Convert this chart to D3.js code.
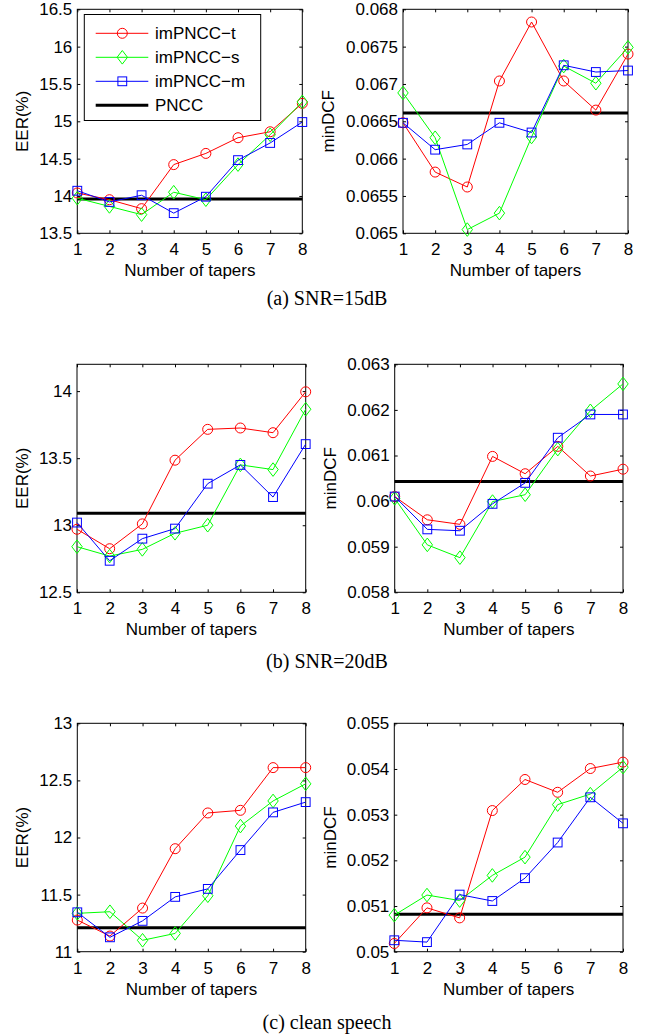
<!DOCTYPE html>
<html>
<head>
<meta charset="utf-8">
<script src="https://cdn.jsdelivr.net/npm/d3@7"></script>
<style>
  body { margin: 0; background: #fff; }
  svg { display: block; }
  text { font-family: "Liberation Sans", Arial, sans-serif; fill: #000; }
  .caption { font-family: "Liberation Serif", "Times New Roman", serif; }
</style>
</head>
<body>
<script>
// number of tapers on the x axis
var tapers = [1, 2, 3, 4, 5, 6, 7, 8];

var seriesNames = ["imPNCC\u2212t", "imPNCC\u2212s", "imPNCC\u2212m", "PNCC"];

// (a) SNR=15dB
var eer15T = [14.04, 13.95, 13.83, 14.42, 14.57, 14.78, 14.86, 15.24];
var eer15S = [13.97, 13.86, 13.75, 14.05, 13.95, 14.42, 14.82, 15.26];
var eer15M = [14.07, 13.92, 14.01, 13.77, 13.99, 14.48, 14.71, 14.99];
var eer15Pncc = 13.96;
var eer15Ticks = [13.5, 14, 14.5, 15, 15.5, 16, 16.5];

var dcf15T = [0.06648, 0.06582, 0.06562, 0.06704, 0.06783, 0.06704, 0.06665, 0.06740];
var dcf15S = [0.06688, 0.06628, 0.06505, 0.06527, 0.06629, 0.06724, 0.06701, 0.06749];
var dcf15M = [0.06648, 0.06612, 0.06619, 0.06648, 0.06635, 0.06725, 0.06716, 0.06718];
var dcf15Pncc = 0.06661;
var dcf15Ticks = [0.065, 0.0655, 0.066, 0.0665, 0.067, 0.0675, 0.068];

// (b) SNR=20dB
var eer20T = [12.97, 12.825, 13.01, 13.485, 13.715, 13.725, 13.69, 13.995];
var eer20S = [12.84, 12.77, 12.82, 12.94, 13.0, 13.45, 13.415, 13.865];
var eer20M = [13.02, 12.735, 12.9, 12.975, 13.31, 13.45, 13.21, 13.605];
var eer20Pncc = 13.09;
var eer20Ticks = [12.5, 13, 13.5, 14];

var dcf20T = [0.0601, 0.05959, 0.05949, 0.06098, 0.0606, 0.0612, 0.06055, 0.0607];
var dcf20S = [0.06006, 0.05904, 0.05876, 0.05999, 0.06014, 0.06114, 0.06198, 0.06257];
var dcf20M = [0.0601, 0.05938, 0.05935, 0.05994, 0.0604, 0.06139, 0.0619, 0.0619];
var dcf20Pncc = 0.06043;
var dcf20Ticks = [0.058, 0.059, 0.06, 0.061, 0.062, 0.063];

// (c) clean speech
var eerCleanT = [11.277, 11.137, 11.382, 11.902, 12.215, 12.238, 12.612, 12.612];
var eerCleanS = [11.336, 11.35, 11.10, 11.16, 11.49, 12.10, 12.32, 12.47];
var eerCleanM = [11.345, 11.126, 11.27, 11.48, 11.55, 11.89, 12.22, 12.31];
var eerCleanPncc = 11.21;
var eerCleanTicks = [11, 11.5, 12, 12.5, 13];

var dcfCleanT = [0.05018, 0.05096, 0.05074, 0.05309, 0.05377, 0.05349, 0.05401, 0.05415];
var dcfCleanS = [0.0508, 0.05124, 0.05112, 0.05167, 0.05207, 0.05322, 0.05345, 0.05404];
var dcfCleanM = [0.05025, 0.05021, 0.05125, 0.05111, 0.05161, 0.05239, 0.05338, 0.05281];
var dcfCleanPncc = 0.05082;
var dcfCleanTicks = [0.05, 0.051, 0.052, 0.053, 0.054, 0.055];

var captions = ["(a)  SNR=15dB", "(b)  SNR=20dB", "(c)  clean speech"];

// styling for the three taper variants
var colors = ["#ff0000", "#00ff00", "#0000ff"];
var markers = ["circle", "diamond", "square"];

var svg = d3.select("body")
  .append("svg")
  .attr("width", 654)
  .attr("height", 1036);

// panel boxes: left, right, top, bottom (pixels)
var panels = [
  {box: [77.3, 302.3, 9.3, 233.3], domain: [13.5, 16.5], ticks: eer15Ticks, label: "EER(%)", labelX: 22,
   series: [eer15T, eer15S, eer15M], pncc: eer15Pncc, legend: true},
  {box: [403, 628, 9.3, 233.3], domain: [0.065, 0.068], ticks: dcf15Ticks, label: "minDCF", labelX: 328,
   series: [dcf15T, dcf15S, dcf15M], pncc: dcf15Pncc},
  {box: [77, 305.7, 364.3, 592.3], domain: [12.5, 14.2], ticks: eer20Ticks, label: "EER(%)", labelX: 22,
   series: [eer20T, eer20S, eer20M], pncc: eer20Pncc},
  {box: [394.7, 623, 364.3, 592.3], domain: [0.058, 0.063], ticks: dcf20Ticks, label: "minDCF", labelX: 330,
   series: [dcf20T, dcf20S, dcf20M], pncc: dcf20Pncc},
  {box: [77.3, 305.7, 723.3, 951.7], domain: [11, 13], ticks: eerCleanTicks, label: "EER(%)", labelX: 22,
   series: [eerCleanT, eerCleanS, eerCleanM], pncc: eerCleanPncc},
  {box: [394.3, 623, 723.3, 951.7], domain: [0.05, 0.055], ticks: dcfCleanTicks, label: "minDCF", labelX: 330,
   series: [dcfCleanT, dcfCleanS, dcfCleanM], pncc: dcfCleanPncc}
];

function drawMarker(g, type, x, y, color) {
  if (type === "circle") {
    g.append("circle").attr("cx", x).attr("cy", y).attr("r", 5)
      .attr("fill", "none").attr("stroke", color).attr("stroke-width", 1);
  } else if (type === "square") {
    g.append("rect").attr("x", x - 4.4).attr("y", y - 4.4).attr("width", 8.8).attr("height", 8.8)
      .attr("fill", "none").attr("stroke", color).attr("stroke-width", 1);
  } else {
    g.append("path")
      .attr("d", `M${x},${y - 6.8}L${x + 5.2},${y}L${x},${y + 6.8}L${x - 5.2},${y}Z`)
      .attr("fill", "none").attr("stroke", color).attr("stroke-width", 1);
  }
}

panels.forEach(function(p) {
  var x0 = p.box[0], x1 = p.box[1], y0 = p.box[2], y1 = p.box[3];
  var x = d3.scaleLinear().domain([1, 8]).range([x0, x1]);
  var y = d3.scaleLinear().domain(p.domain).range([y1, y0]);
  var g = svg.append("g");
  var fmt = d => String(d);

  // inside ticks on all four sides
  g.append("g").attr("transform", `translate(${x0},0)`)
    .call(d3.axisLeft(y).tickValues(p.ticks).tickSize(-3).tickPadding(5).tickFormat(fmt));
  g.append("g").attr("transform", `translate(${x1},0)`)
    .call(d3.axisRight(y).tickValues(p.ticks).tickSize(-3).tickFormat(""));
  g.append("g").attr("transform", `translate(0,${y1})`)
    .call(d3.axisBottom(x).tickValues(tapers).tickSize(-3).tickPadding(10).tickFormat(fmt));
  g.append("g").attr("transform", `translate(0,${y0})`)
    .call(d3.axisTop(x).tickValues(tapers).tickSize(-3).tickFormat(""));
  g.selectAll(".domain").remove();
  g.selectAll(".tick line").attr("stroke", "#000");
  g.selectAll(".tick text").style("font-size", "17px").style("font-family", "'Liberation Sans', Arial, sans-serif");

  g.append("rect").attr("x", x0).attr("y", y0).attr("width", x1 - x0).attr("height", y1 - y0)
    .attr("fill", "none").attr("stroke", "#000").attr("stroke-width", 1);

  // PNCC baseline
  g.append("line")
    .attr("x1", x(1)).attr("x2", x(8))
    .attr("y1", y(p.pncc)).attr("y2", y(p.pncc))
    .attr("stroke", "#000").attr("stroke-width", 3);

  var line = d3.line().x((d, i) => x(tapers[i])).y(d => y(d));
  p.series.forEach(function(vals, k) {
    g.append("path").datum(vals).attr("d", line)
      .attr("fill", "none").attr("stroke", colors[k]).attr("stroke-width", 1);
    vals.forEach(function(v, i) {
      drawMarker(g, markers[k], x(tapers[i]), y(v), colors[k]);
    });
  });

  // axis labels
  g.append("text")
    .attr("x", (x0 + x1) / 2).attr("y", y1 + 43)
    .attr("text-anchor", "middle")
    .style("font-size", "17px")
    .text("Number of tapers");
  g.append("text")
    .attr("transform", `translate(${p.labelX},${(y0 + y1) / 2}) rotate(-90)`)
    .attr("text-anchor", "middle")
    .attr("dy", "0.35em")
    .style("font-size", "17px")
    .text(p.label);

  if (p.legend) {
    var lg = g.append("g");
    lg.append("rect").attr("x", 84.3).attr("y", 14.5).attr("width", 176.4).attr("height", 106)
      .attr("fill", "#fff").attr("stroke", "#000").attr("stroke-width", 1);
    seriesNames.forEach(function(name, k) {
      var ry = 33.3 + k * 24;
      lg.append("line").attr("x1", 95.7).attr("x2", 148.3).attr("y1", ry).attr("y2", ry)
        .attr("stroke", k < 3 ? colors[k] : "#000").attr("stroke-width", k < 3 ? 1 : 3);
      if (k < 3) drawMarker(lg, markers[k], 122.3, ry, colors[k]);
      lg.append("text").attr("x", 155).attr("y", ry).attr("dy", "0.35em")
        .style("font-size", "17px").text(name);
    });
  }
});

// sub-figure captions
[305, 668, 1029].forEach(function(cy, i) {
  svg.append("text")
    .attr("class", "caption")
    .attr("x", 327).attr("y", cy)
    .attr("text-anchor", "middle")
    .style("font-size", "20px")
    .text(captions[i]);
});
</script>
</body>
</html>
